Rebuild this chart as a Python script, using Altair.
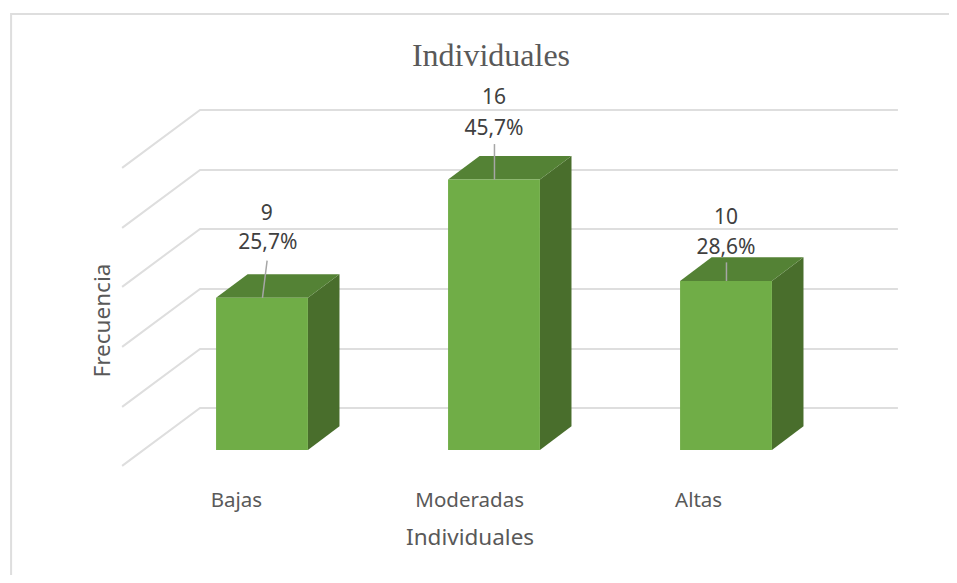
import altair as alt
import pandas as pd

# --- values ---
categories = ["Bajas", "Moderadas", "Altas"]
frequencies = [9, 16, 10]
percents = ["25,7%", "45,7%", "28,6%"]
positions = [0, 1, 2]

# --- drawing geometry, in data units ---
half_width = 0.198
depth_x = 0.136
depth_y = 1.4
grid_back = [20.12, 16.57, 13.08, 9.53, 5.98, 2.49]
grid_drop = 3.43
grid_x = (-0.603, -0.267, 2.741)
count_offset = [4.96, 4.84, 3.73]
pct_offset = [3.22, 2.99, 1.94]
leader_top = [2.2, 2.1, 1.1]
leader_lean = [0.02, 0.0, 0.0]
category_shift = [-0.11, -0.105, -0.118]

FRONT, TOP, SIDE = "#70AD47", "#548235", "#496E2C"
GRID = "#DEDEDE"
X = alt.Scale(domain=[-1.0948, 2.9612], nice=False, zero=False)
Y = alt.Scale(domain=[-7.396, 26.15], nice=False, zero=False)
x_q = lambda f="x": alt.X(f"{f}:Q", scale=X, axis=None)
y_q = lambda f="y": alt.Y(f"{f}:Q", scale=Y, axis=None)

front, side, top, leaders, counts, pcts, grid = [], [], [], [], [], [], []
for i, (p, val) in enumerate(zip(positions, frequencies)):
    xl, xr = p - half_width, p + half_width
    front.append({"x": xl, "x2": xr, "y": 0, "y2": val})
    side += [{"b": i, "x": xr, "y": 0, "y2": val},
             {"b": i, "x": xr + depth_x, "y": depth_y, "y2": val + depth_y}]
    top += [{"b": i, "x": xl, "y": val, "y2": val},
            {"b": i, "x": xl + depth_x, "y": val, "y2": val + depth_y},
            {"b": i, "x": xr, "y": val, "y2": val + depth_y},
            {"b": i, "x": xr + depth_x, "y": val + depth_y, "y2": val + depth_y}]
    leaders += [{"b": i, "o": 0, "x": p + 0.002, "y": val},
                {"b": i, "o": 1, "x": p + 0.002 + leader_lean[i], "y": val + leader_top[i]}]
    counts.append({"x": p + 0.02 * (i == 0), "y": val + count_offset[i], "t": str(val)})
    pcts.append({"x": p + 0.025 * (i == 0), "y": val + pct_offset[i], "t": percents[i]})
for j, g in enumerate(grid_back):
    grid += [{"g": j, "o": 0, "x": grid_x[0], "y": g - grid_drop},
             {"g": j, "o": 1, "x": grid_x[1], "y": g},
             {"g": j, "o": 2, "x": grid_x[2], "y": g}]

def text_layer(rows, size, color, font="Noto Sans", **kw):
    return alt.Chart(pd.DataFrame(rows)).mark_text(
        fontSize=size, color=color, font=font, baseline="middle", align="center", **kw
    ).encode(x=x_q(), y=y_q(), text="t:N")

frame = alt.Chart(pd.DataFrame([
    {"o": 0, "x": -1.0815, "y": -7.396}, {"o": 1, "x": -1.0815, "y": 25.80}, {"o": 2, "x": 2.9612, "y": 25.80}
])).mark_line(color=GRID, strokeWidth=2).encode(x=x_q(), y=y_q(), order="o:Q")

grid_l = alt.Chart(pd.DataFrame(grid)).mark_line(color=GRID, strokeWidth=2).encode(
    x=x_q(), y=y_q(), detail="g:N", order="o:Q")
side_l = alt.Chart(pd.DataFrame(side)).mark_area(color=SIDE).encode(
    x=x_q(), y=y_q(), y2="y2:Q", detail="b:N")
top_l = alt.Chart(pd.DataFrame(top)).mark_area(color=TOP).encode(
    x=x_q(), y=y_q(), y2="y2:Q", detail="b:N")
front_l = alt.Chart(pd.DataFrame(front)).mark_rect(color=FRONT).encode(
    x=x_q(), x2="x2:Q", y=y_q(), y2="y2:Q")
leader_l = alt.Chart(pd.DataFrame(leaders)).mark_line(color="#A6A6A6", strokeWidth=1.5).encode(
    x=x_q(), y=y_q(), detail="b:N", order="o:Q")

cat_rows = [{"x": p + s, "y": -2.99, "t": c} for p, s, c in zip(positions, category_shift, categories)]
title_l = text_layer([{"x": 0.987, "y": 23.31, "t": "Individuales"}], 32, "#595959", font="Liberation Serif")
xtitle_l = text_layer([{"x": 0.897, "y": -5.18, "t": "Individuales"}], 22.5, "#595959")
ytitle_l = text_layer([{"x": -0.685, "y": 7.66, "t": "Frecuencia"}], 22.5, "#595959", angle=270)

chart = alt.layer(
    frame, grid_l, side_l, top_l, front_l, leader_l,
    text_layer(counts, 21, "#404040"), text_layer(pcts, 21, "#404040"),
    text_layer(cat_rows, 20.5, "#595959"),
    title_l, xtitle_l, ytitle_l,
).properties(width=941, height=567, padding=0, autosize="none").configure_view(stroke=None)

chart.save("out.html", embed_options={"renderer": "svg", "actions": False})
